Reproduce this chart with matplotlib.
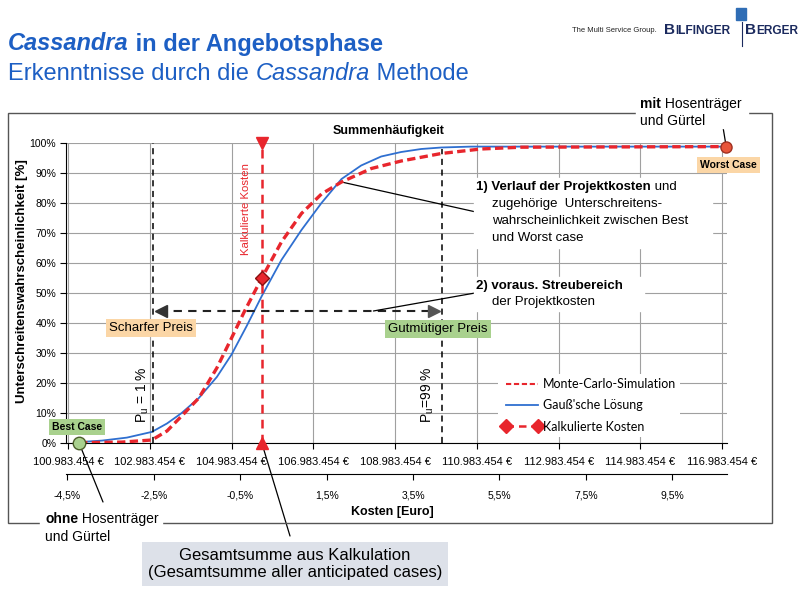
import matplotlib
matplotlib.use("Agg")
import matplotlib.pyplot as plt
from matplotlib.lines import Line2D
from matplotlib.patches import Rectangle

plt.rcParams["font.family"] = ["Liberation Sans", "DejaVu Sans"]

W, H = 801, 599

# Kosten in Mio. Euro, Unterschreitenswahrscheinlichkeit in %
kosten_gauss = [101.25, 101.81, 102.42, 103.03, 103.40, 103.76, 104.18, 104.62,
                104.98, 105.35, 105.72, 106.20, 106.69, 107.18, 107.67, 108.15,
                108.64, 109.13, 109.62, 110.11, 110.84, 117.08]
p_gauss = [0.3, 0.8, 1.8, 3.7, 6.5, 10, 15, 22, 29.5, 39, 49, 61, 71, 80, 88,
           92.5, 95.5, 97, 98, 98.5, 98.8, 98.8]

kosten_mc = [101.25, 102.30, 103.03, 103.40, 103.76, 104.18, 104.62, 104.98,
             105.30, 105.72, 106.20, 106.69, 107.18, 107.67, 108.40, 109.13,
             110.11, 111.08, 112.06, 117.08]
p_mc = [0.1, 0.3, 1.0, 4, 9, 15, 25, 35, 44, 55, 67, 76.5, 83, 87, 91.5, 94,
        96.5, 98, 98.6, 98.8]

best_case = (101.25, 0.0)
worst_case = (117.08, 98.8)
kalk_kosten = 105.72
kalk_p = 55
p_u1 = 103.06
p_u99 = 110.13
streu_p = 44
kreuzung = (107.67, 87)

x_ticks = [100.983454, 102.983454, 104.983454, 106.983454, 108.983454,
           110.983454, 112.983454, 114.983454, 116.983454]
x_labels = ["100.983.454 €", "102.983.454 €", "104.983.454 €", "106.983.454 €",
            "108.983.454 €", "110.983.454 €", "112.983.454 €", "114.983.454 €",
            "116.983.454 €"]
y_ticks = [0, 10, 20, 30, 40, 50, 60, 70, 80, 90, 100]
y_labels = ["0%", "10%", "20%", "30%", "40%", "50%", "60%", "70%", "80%",
            "90%", "100%"]
pct_ticks = [-4.5, -2.5, -0.5, 1.5, 3.5, 5.5, 7.5, 9.5]
pct_labels = ["-4,5%", "-2,5%", "-0,5%", "1,5%", "3,5%", "5,5%", "7,5%", "9,5%"]

rot = "#e8262d"
blau = "#2f6fd0"
titelblau = "#1d5fc4"
orange = "#fbd6a6"
gruen = "#a9d18e"


def px(x, y):
    return (x / W, 1 - y / H)


fig = plt.figure(figsize=(W / 100, H / 100), dpi=100)
renderer = fig.canvas.get_renderer()


def zeile(x, y, teile, va="center", **kw):
    # mehrere Textstuecke mit eigenem Stil in einer Zeile
    for s, stil in teile:
        t = fig.text(x / W, 1 - y / H, s, va=va, **kw, **stil)
        x = t.get_window_extent(renderer).x1


# Titel
zeile(8, 44, [("Cassandra", dict(weight="bold", style="italic")),
              (" in der Angebotsphase", dict(weight="bold"))],
      size=17, color=titelblau)
zeile(8, 74, [("Erkenntnisse durch die ", {}),
              ("Cassandra", dict(style="italic")),
              (" Methode", {})],
      size=17, color=titelblau)

# Logo
fig.text(*px(572, 30), "The Multi Service Group.", size=5.5, color="#222",
         va="center")
zeile(664, 34, [("B", dict(size=11)), ("ILFINGER", dict(size=8.6))],
      va="baseline", color="#1b2a5e", weight="bold")
zeile(745, 34, [("B", dict(size=11)), ("ERGER", dict(size=8.6))],
      va="baseline", color="#1b2a5e", weight="bold")
fig.add_artist(Line2D([742 / W, 742 / W], [1 - 22 / H, 1 - 46 / H],
                      color="#1b2a5e", lw=0.8))
fig.add_artist(Rectangle(px(736, 20), 10 / W, 12 / H, color="#2f6db5"))

# Rahmen
fig.add_artist(Rectangle(px(8, 523), (772 - 8) / W, (523 - 113) / H,
                         fill=False, edgecolor="#555", lw=1))

ax = fig.add_axes([66 / W, 1 - 443 / H, (727 - 66) / W, 300 / H])
ax.set_xlim(100.93, 117.1)
ax.set_ylim(0, 100)
ax.grid(True, color="#a0a0a0", lw=0.8)
ax.set_axisbelow(True)
for s in ["top", "right"]:
    ax.spines[s].set_visible(False)
ax.set_xticks(x_ticks, x_labels)
ax.set_yticks(y_ticks, y_labels)
ax.tick_params(axis="x", length=4, pad=6, labelsize=8)
ax.tick_params(axis="y", length=4, pad=3, labelsize=7.5)

ax.plot(kosten_gauss, p_gauss, color=blau, lw=1.3, zorder=3)
ax.plot(kosten_mc, p_mc, color=rot, lw=2.4, ls=(0, (2.5, 1.3)), zorder=4)

# Kalkulierte Kosten
ax.plot([kalk_kosten, kalk_kosten], [0, 100], color=rot, lw=1.8,
        ls=(0, (3.5, 2.5)), zorder=3)
ax.plot([kalk_kosten], [0], marker="^", color=rot, ms=8, clip_on=False, zorder=6)
ax.plot([kalk_kosten], [100], marker="v", color=rot, ms=8, clip_on=False, zorder=6)
ax.plot([kalk_kosten], [kalk_p], marker="D", color=rot, mec="#8a1010", ms=7,
        zorder=6)

# Pu-Linien und Streubereich
ax.plot([p_u1, p_u1], [0, 100], color="black", lw=1.1, ls=(0, (4, 3)), zorder=3)
ax.plot([p_u99, p_u99], [0, 98], color="black", lw=1.1, ls=(0, (4, 3)), zorder=3)
ax.plot([p_u1 + 0.15, p_u99 - 0.15], [streu_p, streu_p], color="#222", lw=1.5,
        ls=(0, (4, 3)), zorder=3)
ax.plot([p_u1 + 0.2], [streu_p], marker="<", color="#333", ms=8, zorder=4)
ax.plot([p_u99 - 0.2], [streu_p], marker=">", color="#555", ms=8, zorder=4)

# Best / Worst Case
ax.plot(*best_case, marker="o", color=gruen, mec="#4b5e2a", ms=9,
        clip_on=False, zorder=7)
ax.plot(*worst_case, marker="o", color="#e8553a", mec="#a03020", ms=8,
        clip_on=False, zorder=7)

# zweite Achse in Prozent
sec = ax.secondary_xaxis(-31 / 300, functions=(
    lambda e: (e / kalk_kosten - 1) * 100,
    lambda p: kalk_kosten * (1 + p / 100)))
sec.set_ticks(pct_ticks, labels=pct_labels)
sec.tick_params(length=4, pad=8, labelsize=7.5)
for lab in sec.get_xticklabels():
    lab.set_family(["Liberation Sans Narrow", "Liberation Sans"])

# Legende
handles = [
    Line2D([], [], color=rot, lw=1.5, ls=(0, (2.5, 1.3))),
    Line2D([], [], color=blau, lw=1.3),
    Line2D([], [], color=rot, lw=1.8, ls=(0, (3, 2)), marker="D", ms=7),
]
ax.legend(handles, ["Monte-Carlo-Simulation", "Gauß'sche Lösung",
                    "Kalkulierte Kosten"],
          loc="upper left", bbox_to_anchor=px(492, 368),
          bbox_transform=fig.transFigure, numpoints=2, handlelength=3.2,
          handletextpad=0.1, labelspacing=0.75, borderpad=0.3,
          facecolor="white", edgecolor="none", framealpha=1,
          prop={"family": "Lato", "size": 9})

# Achsentexte
fig.text(*px(389, 131), "Summenhäufigkeit", weight="bold", size=9,
         ha="center", va="center")
fig.text(*px(392, 512), "Kosten [Euro]", weight="bold", size=9,
         ha="center", va="center")
fig.text(*px(22, 281), "Unterschreitenswahrscheinlichkeit [%]", weight="bold",
         size=9.5, rotation=90, ha="center", va="center")
fig.text(*px(246, 209), "Kalkulierte Kosten", color=rot, size=8.2,
         rotation=90, ha="center", va="center")
fig.text(*px(143, 395), r"P$_\mathregular{u}$ = 1 %", size=10, rotation=90,
         ha="center", va="center")
fig.text(*px(428, 395), r"P$_\mathregular{u}$=99 %", size=10, rotation=90,
         ha="center", va="center")

# Kastenbeschriftungen
fig.text(*px(151, 328), "Scharfer Preis", size=9.5, ha="center", va="center",
         bbox=dict(boxstyle="square,pad=0.25", fc=orange, ec="none"))
fig.text(*px(438, 329), "Gutmütiger Preis", size=9.5, ha="center", va="center",
         bbox=dict(boxstyle="square,pad=0.25", fc=gruen, ec="none"))
fig.text(*px(77, 427), "Best Case", size=7.5, weight="bold", ha="center",
         va="center", bbox=dict(boxstyle="square,pad=0.3", fc=gruen, ec="none"))
fig.text(*px(728, 165), "Worst Case", size=7.5, weight="bold", ha="center",
         va="center", bbox=dict(boxstyle="square,pad=0.3", fc=orange, ec="none"))
fig.text(*px(295, 564), "Gesamtsumme aus Kalkulation\n"
         "(Gesamtsumme aller anticipated cases)", size=12, ha="center",
         va="center", linespacing=1.25,
         bbox=dict(boxstyle="square,pad=0.35", fc="#dde1e9", ec="none"))

# Erklaerungen
fig.add_artist(Rectangle(px(474, 248), 238 / W, 70 / H, color="white", zorder=2))
fig.add_artist(Rectangle(px(474, 311), 170 / W, 34 / H, color="white", zorder=2))
zeile(476, 187, [("1) Verlauf der Projektkosten", dict(weight="bold")),
                 (" und", {})], size=9.5)
zeile(492, 204, [("zugehörige  Unterschreitens-", {})], size=9.5)
zeile(492, 221, [("wahrscheinlichkeit zwischen Best", {})], size=9.5)
zeile(492, 238, [("und Worst case", {})], size=9.5)
zeile(476, 286, [("2) voraus. Streubereich", dict(weight="bold"))], size=9.5)
zeile(492, 302, [("der Projektkosten", {})], size=9.5)

fig.add_artist(Rectangle(px(636, 128), 112 / W, 34 / H, color="white", zorder=2))
zeile(640, 104, [("mit", dict(weight="bold")), (" Hosenträger", {})], size=10)
zeile(640, 121, [("und Gürtel", {})], size=10)
fig.add_artist(Rectangle(px(40, 545), 122 / W, 34 / H, color="white", zorder=2))
zeile(45, 519, [("ohne", dict(weight="bold")), (" Hosenträger", {})], size=10)
zeile(45, 537, [("und Gürtel", {})], size=10)

# Verbindungslinien
linie = dict(arrowstyle="-", color="black", lw=0.9, shrinkA=0, shrinkB=0)
ax.annotate("", xy=worst_case, xytext=px(722, 121), textcoords="figure fraction",
            arrowprops=linie, annotation_clip=False)
ax.annotate("", xy=best_case, xytext=px(103, 502), textcoords="figure fraction",
            arrowprops=linie, annotation_clip=False)
ax.annotate("", xy=(kalk_kosten, 0), xytext=px(290, 536),
            textcoords="figure fraction", arrowprops=linie,
            annotation_clip=False)
ax.annotate("", xy=kreuzung, xytext=px(476, 212), textcoords="figure fraction",
            arrowprops=linie, annotation_clip=False)
ax.annotate("", xy=(108.45, streu_p), xytext=px(475, 293),
            textcoords="figure fraction", arrowprops=linie,
            annotation_clip=False)

fig.savefig("out.png", dpi=100)
